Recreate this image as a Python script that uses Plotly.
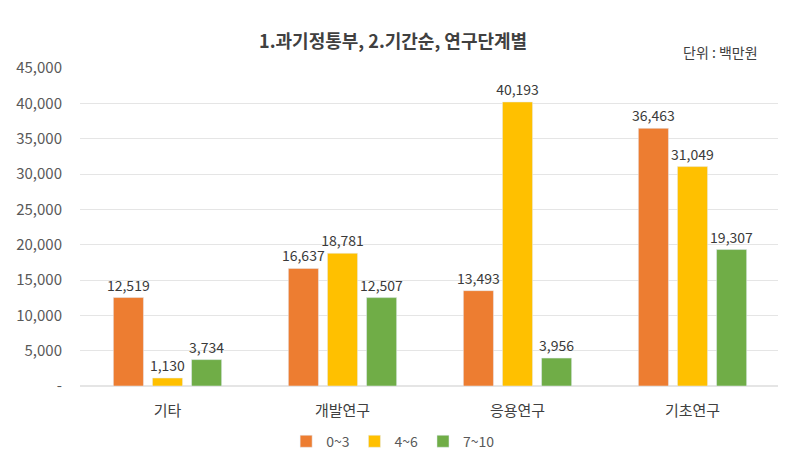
import plotly.graph_objects as go

categories = ["기타", "개발연구", "응용연구", "기초연구"]
series_names = ["0~3", "4~6", "7~10"]
v_0_3 = [12519, 16637, 13493, 36463]
v_4_6 = [1130, 18781, 40193, 31049]
v_7_10 = [3734, 12507, 3956, 19307]
colors = ["#ED7D31", "#FFC000", "#70AD47"]
tick_vals = [0, 5000, 10000, 15000, 20000, 25000, 30000, 35000, 40000, 45000]
tick_text = ["-", "5,000", "10,000", "15,000", "20,000", "25,000", "30,000", "35,000", "40,000", "45,000"]

FONT = "Noto Sans CJK KR"
fig = go.Figure()
for name, vals, c in zip(series_names, [v_0_3, v_4_6, v_7_10], colors):
    fig.add_trace(go.Bar(
        x=categories, y=vals, name=name, marker_color=c,
        text=[f"{v:,}" for v in vals], textposition="outside",
        textfont=dict(family=FONT, size=14, color="#3A3A3A"),
        constraintext="none", cliponaxis=False,
    ))

fig.update_layout(
    width=786, height=470,
    margin=dict(l=72, r=14, t=60, b=92, autoexpand=False),
    paper_bgcolor="white", plot_bgcolor="white",
    font=dict(family=FONT, color="#595959", size=13),
    barmode="group", bargap=0.33, bargroupgap=0.23,
    title=dict(text="<b>1.과기정통부, 2.기간순, 연구단계별</b>", x=0.49, xref="container", xanchor="center",
               y=1 - 34 / 470, yref="container", yanchor="middle", font=dict(family=FONT, size=18, color="#404040")),
    legend=dict(orientation="h", xref="container", x=0.49, xanchor="center", y=-0.175, yanchor="middle",
                font=dict(family=FONT, size=14, color="#595959"), itemwidth=30),
    showlegend=True,
)
fig.update_xaxes(showline=False, tickfont=dict(size=15, color="#404040"), ticks="",
                 ticklabelstandoff=14)
fig.update_yaxes(range=[0, 45000], tickvals=tick_vals, ticktext=tick_text,
                 showgrid=True, gridcolor="#E5E5E5", zeroline=True, zerolinecolor="#E5E5E5",
                 tickfont=dict(size=15, color="#595959"), ticks="", ticklabelstandoff=17)
fig.add_annotation(text="단위 : 백만원", xref="paper", yref="paper", x=0.971, y=1.0,
                   xanchor="right", yanchor="bottom", yshift=4, showarrow=False,
                   font=dict(family=FONT, size=14, color="#404040"))
fig.write_html("out.html")
